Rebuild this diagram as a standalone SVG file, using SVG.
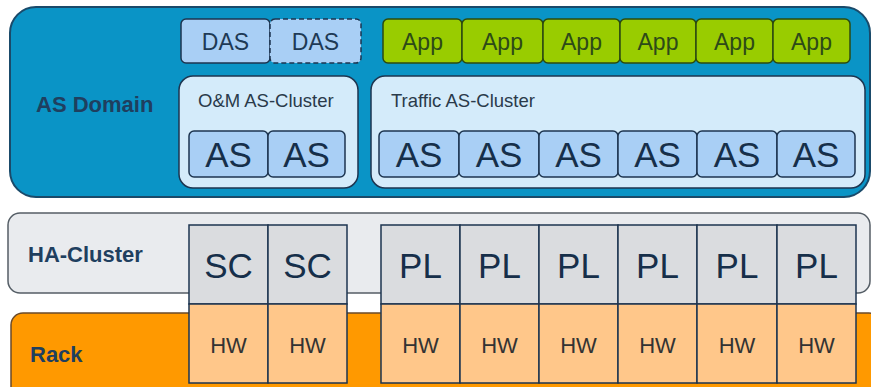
<svg xmlns="http://www.w3.org/2000/svg" width="871" height="387" viewBox="0 0 871 387">
  <style>
    text { font-family: "Liberation Sans", Arial, sans-serif; text-anchor: middle; }
    .layer-label { font-weight: bold; text-anchor: start; font-size: 22px; fill: #1f3f5f; }
    .das { fill: #a9cff5; stroke: #1d3550; stroke-width: 1.5; }
    .app { fill: #99cc00; stroke: #2c4a10; stroke-width: 1.5; }
    .as { fill: #a9cff5; stroke: #1d3550; stroke-width: 1.5; }
    .cluster { fill: #d4ebfa; stroke: #1d3550; stroke-width: 1.5; }
    .node { fill: #dadcdf; stroke: #1d3550; stroke-width: 1.5; }
    .hw { fill: #ffc78a; stroke: #1d3550; stroke-width: 1.5; }
    .t18 { font-size: 23px; fill: #1e3a55; }
    .tapp { font-size: 23px; fill: #2d4a18; }
    .tbig { font-size: 35px; fill: #162f4a; }
    .tcl { font-size: 18.5px; fill: #2a3a4a; text-anchor: start; }
    .thw { font-size: 22px; fill: #333; }
  </style>

  <!-- AS Domain layer -->
  <g id="as-domain">
    <rect x="10" y="7" width="860" height="190" rx="26" fill="#0a94c6" stroke="#1a4a6a" stroke-width="2"/>
    <text class="layer-label" x="36" y="112">AS Domain</text>
  </g>

  <g id="das-1">
    <rect class="das" x="181" y="19" width="89" height="44" rx="5"/>
    <text class="t18" x="225.5" y="50">DAS</text>
  </g>
  <g id="das-2">
    <rect class="das" x="270" y="19" width="91" height="44" rx="5" stroke-dasharray="5 3"/>
    <text class="t18" x="315.5" y="50">DAS</text>
  </g>

  <g id="apps">
    <g id="app-1"><rect class="app" x="383" y="19" width="79" height="44" rx="5"/><text class="tapp" x="422.5" y="50">App</text></g>
    <g id="app-2"><rect class="app" x="462" y="19" width="81" height="44" rx="5"/><text class="tapp" x="502.5" y="50">App</text></g>
    <g id="app-3"><rect class="app" x="543" y="19" width="77" height="44" rx="5"/><text class="tapp" x="581.5" y="50">App</text></g>
    <g id="app-4"><rect class="app" x="620" y="19" width="76" height="44" rx="5"/><text class="tapp" x="658" y="50">App</text></g>
    <g id="app-5"><rect class="app" x="696" y="19" width="77" height="44" rx="5"/><text class="tapp" x="734.5" y="50">App</text></g>
    <g id="app-6"><rect class="app" x="773" y="19" width="77" height="44" rx="5"/><text class="tapp" x="811.5" y="50">App</text></g>
  </g>

  <!-- O&M cluster -->
  <g id="om-cluster">
    <rect class="cluster" x="179" y="76" width="179" height="112" rx="14"/>
    <text class="tcl" x="198" y="107">O&amp;M AS-Cluster</text>
    <g id="om-as-1"><rect class="as" x="189" y="131" width="79" height="46" rx="5"/><text class="tbig" x="228.5" y="167">AS</text></g>
    <g id="om-as-2"><rect class="as" x="268" y="131" width="77" height="46" rx="5"/><text class="tbig" x="306.5" y="167">AS</text></g>
  </g>

  <!-- Traffic cluster -->
  <g id="traffic-cluster">
    <rect class="cluster" x="371" y="76" width="494" height="112" rx="14"/>
    <text class="tcl" x="391" y="107">Traffic AS-Cluster</text>
    <g id="tr-as-1"><rect class="as" x="379" y="131" width="80" height="46" rx="5"/><text class="tbig" x="419" y="167">AS</text></g>
    <g id="tr-as-2"><rect class="as" x="459" y="131" width="80" height="46" rx="5"/><text class="tbig" x="499" y="167">AS</text></g>
    <g id="tr-as-3"><rect class="as" x="539" y="131" width="79" height="46" rx="5"/><text class="tbig" x="578.5" y="167">AS</text></g>
    <g id="tr-as-4"><rect class="as" x="618" y="131" width="79" height="46" rx="5"/><text class="tbig" x="657.5" y="167">AS</text></g>
    <g id="tr-as-5"><rect class="as" x="697" y="131" width="80" height="46" rx="5"/><text class="tbig" x="737" y="167">AS</text></g>
    <g id="tr-as-6"><rect class="as" x="777" y="131" width="78" height="46" rx="5"/><text class="tbig" x="816" y="167">AS</text></g>
  </g>

  <!-- HA-Cluster layer -->
  <g id="ha-cluster">
    <rect x="8" y="213" width="862" height="80" rx="12" fill="#e9ebee" stroke="#555e66" stroke-width="1.5"/>
    <text class="layer-label" x="28" y="262">HA-Cluster</text>
  </g>

  <!-- Rack layer -->
  <g id="rack">
    <rect x="11" y="313" width="870" height="90" rx="12" fill="#ff9900" stroke="#6a4a2a" stroke-width="1.5"/>
    <text class="layer-label" x="30" y="362">Rack</text>
  </g>

  <!-- Node columns: OS node on top, hardware below -->
  <g id="sc-1"><rect class="node" x="189" y="225" width="79" height="79"/><text class="tbig" x="228.5" y="278">SC</text><rect class="hw" x="189" y="304" width="79" height="79"/><text class="thw" x="228.5" y="353">HW</text></g>
  <g id="sc-2"><rect class="node" x="268" y="225" width="79" height="79"/><text class="tbig" x="307.5" y="278">SC</text><rect class="hw" x="268" y="304" width="79" height="79"/><text class="thw" x="307.5" y="353">HW</text></g>
  <g id="pl-1"><rect class="node" x="381" y="225" width="79" height="79"/><text class="tbig" x="420.5" y="278">PL</text><rect class="hw" x="381" y="304" width="79" height="79"/><text class="thw" x="420.5" y="353">HW</text></g>
  <g id="pl-2"><rect class="node" x="460" y="225" width="79" height="79"/><text class="tbig" x="499.5" y="278">PL</text><rect class="hw" x="460" y="304" width="79" height="79"/><text class="thw" x="499.5" y="353">HW</text></g>
  <g id="pl-3"><rect class="node" x="539" y="225" width="79" height="79"/><text class="tbig" x="578.5" y="278">PL</text><rect class="hw" x="539" y="304" width="79" height="79"/><text class="thw" x="578.5" y="353">HW</text></g>
  <g id="pl-4"><rect class="node" x="618" y="225" width="79" height="79"/><text class="tbig" x="657.5" y="278">PL</text><rect class="hw" x="618" y="304" width="79" height="79"/><text class="thw" x="657.5" y="353">HW</text></g>
  <g id="pl-5"><rect class="node" x="697" y="225" width="80" height="79"/><text class="tbig" x="737" y="278">PL</text><rect class="hw" x="697" y="304" width="80" height="79"/><text class="thw" x="737" y="353">HW</text></g>
  <g id="pl-6"><rect class="node" x="777" y="225" width="79" height="79"/><text class="tbig" x="816.5" y="278">PL</text><rect class="hw" x="777" y="304" width="79" height="79"/><text class="thw" x="816.5" y="353">HW</text></g>

  <g id="connectors"></g>
</svg>
